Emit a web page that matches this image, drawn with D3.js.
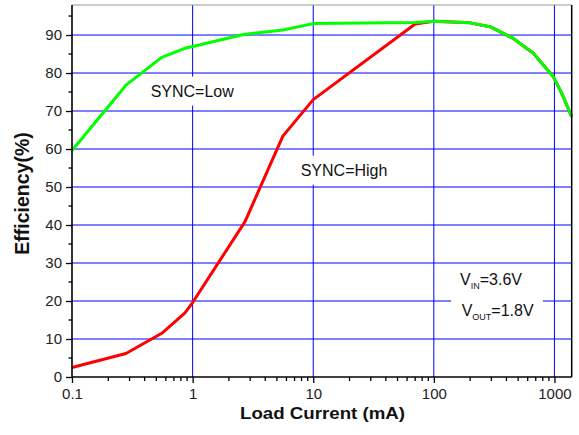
<!DOCTYPE html>
<html>
<head>
<meta charset="utf-8">
<script src="https://cdn.jsdelivr.net/npm/d3@7"></script>
<style>
  html, body { margin: 0; padding: 0; background: #fff; }
  svg { display: block; font-family: "Liberation Sans", Arial, sans-serif; }
</style>
</head>
<body>
<svg id="chart" width="579" height="435"></svg>
<script>
// ---- data ----
const currentLow  = [0.1, 0.28, 0.555, 0.86, 1, 2.7, 5.6, 10, 70, 100, 200, 292, 456, 668, 979, 1148, 1390];
const effLow      = [59.6, 76.8, 84.1, 86.5, 87.0, 90.2, 91.3, 93.0, 93.3, 93.6, 93.2, 92.2, 89.1, 85.2, 79.0, 74.7, 68.5];
const currentHigh = [0.1, 0.28, 0.555, 0.86, 1, 2.72, 5.6, 10, 70, 100, 200, 292, 456, 668, 979, 1148, 1390];
const effHigh     = [2.5, 6.2, 11.5, 16.8, 19.6, 40.9, 63.4, 73.0, 92.9, 93.6, 93.2, 92.2, 89.1, 85.2, 79.0, 74.7, 68.5];
const xMajorTicks = [0.1, 1, 10, 100, 1000];
const xTickLabels = ["0.1", "1", "10", "100", "1000"];
const yMajorTicks = [0, 10, 20, 30, 40, 50, 60, 70, 80, 90];
const yGridTicks  = [10, 20, 30, 40, 50, 60, 70, 80, 90];
const xLabel = "Load Current (mA)";
const yLabel = "Efficiency(%)";

// ---- layout ----
const L = 72, R = 571.7, T = 5, B = 377;
const svg = d3.select("#chart");
const x = d3.scaleLog().domain([0.1, 1390]).range([L, R]);
const y = d3.scaleLinear().domain([0, 97.9]).range([B, T]);

const xMinor = [];
[0.1, 1, 10, 100].forEach(d => { for (let k = 2; k <= 9; k++) xMinor.push(d * k); });
const xMinorIn = xMinor.filter(v => v <= 1390);
const yMinor = d3.range(5, 100, 10);

// gridlines
const grid = svg.append("g");
grid.selectAll("line.h").data(yGridTicks).join("line")
  .attr("x1", L).attr("x2", R)
  .attr("y1", d => y(d)).attr("y2", d => y(d))
  .attr("stroke", "#0000ff").attr("stroke-width", 1);
grid.selectAll("line.v").data(xMajorTicks.slice(1)).join("line")
  .attr("x1", d => x(d)).attr("x2", d => x(d))
  .attr("y1", T).attr("y2", B)
  .attr("stroke", "#0000ff").attr("stroke-width", 1);

// label boxes (white backgrounds that interrupt the grid)
const ann = svg.append("g");
function boxedText(xv, yv, padX, padY, build) {
  const g = ann.append("g");
  const rect = g.append("rect").attr("fill", "#fff");
  const t = build(g, x(xv), y(yv));
  const bb = t.node().getBBox();
  rect.attr("x", bb.x - padX).attr("y", bb.y - padY)
      .attr("width", bb.width + 2 * padX).attr("height", bb.height + 2 * padY);
  return g;
}
boxedText(0.449, 73.8, 3, 6, (g, px, py) =>
  g.append("text").attr("x", px).attr("y", py).attr("font-size", 16).attr("fill", "#111").text("SYNC=Low"));
boxedText(7.87, 53.0, 3, 6, (g, px, py) =>
  g.append("text").attr("x", px).attr("y", py).attr("font-size", 16).attr("fill", "#111").text("SYNC=High"));
boxedText(165, 24.2, 9, 6, (g, px, py) => {
  const gg = g.append("g");
  const t1 = gg.append("text").attr("x", px).attr("y", py).attr("font-size", 16).attr("fill", "#111");
  t1.append("tspan").text("V");
  t1.append("tspan").attr("font-size", 9).attr("dy", 4).text("IN");
  t1.append("tspan").attr("dy", -4).text("=3.6V");
  const t2 = gg.append("text").attr("x", x(170)).attr("y", y(16.05)).attr("font-size", 16).attr("fill", "#111");
  t2.append("tspan").text("V");
  t2.append("tspan").attr("font-size", 9).attr("dy", 4).text("OUT");
  t2.append("tspan").attr("dy", -4).text("=1.8V");
  return gg;
});

// curves
const lineGen = d3.line().x(d => x(d[0])).y(d => y(d[1]));
svg.append("path").datum(d3.zip(currentHigh, effHigh))
  .attr("d", lineGen).attr("fill", "none").attr("stroke", "#ff0000")
  .attr("stroke-width", 3).attr("stroke-linejoin", "round");
svg.append("path").datum(d3.zip(currentLow, effLow))
  .attr("d", lineGen).attr("fill", "none").attr("stroke", "#00ff00")
  .attr("stroke-width", 3).attr("stroke-linejoin", "round");

// frame: top and right
svg.append("line").attr("x1", L).attr("x2", R).attr("y1", T).attr("y2", T)
  .attr("stroke", "#999").attr("stroke-width", 1.2);
svg.append("line").attr("x1", R).attr("x2", R).attr("y1", T).attr("y2", B)
  .attr("stroke", "#000").attr("stroke-width", 1.5);

// axes
const xAxis = d3.axisBottom(x).tickValues(xMajorTicks)
  .tickFormat((d, i) => xTickLabels[i]).tickSize(6).tickSizeOuter(0).tickPadding(5.5);
const gx = svg.append("g").attr("transform", `translate(0,${B})`).call(xAxis);
gx.append("g").selectAll("line").data(xMinorIn).join("line")
  .attr("x1", d => x(d)).attr("x2", d => x(d)).attr("y1", 0).attr("y2", 4)
  .attr("stroke", "#000").attr("stroke-width", 1.3);

const yAxis = d3.axisLeft(y).tickValues(yMajorTicks).tickSize(6).tickSizeOuter(0).tickPadding(4);
const gy = svg.append("g").attr("transform", `translate(${L},0)`).call(yAxis);
gy.append("g").selectAll("line").data(yMinor).join("line")
  .attr("y1", d => y(d)).attr("y2", d => y(d)).attr("x1", 0).attr("x2", -3.5)
  .attr("stroke", "#000").attr("stroke-width", 1.3);

[gx, gy].forEach(g => {
  g.select(".domain").attr("stroke", "#000").attr("stroke-width", 1.6);
  g.selectAll(".tick line").attr("stroke", "#000").attr("stroke-width", 1.3);
  g.selectAll(".tick text").attr("font-size", 15).attr("fill", "#222")
    .attr("font-family", "'Liberation Sans', Arial, sans-serif");
});
gy.select(".domain").attr("d", `M0,${B}V${T}`);
gx.select(".domain").attr("d", `M${L},0H${R}`);

// axis titles
svg.append("text").attr("x", 240).attr("y", 418.5)
  .attr("font-size", 17).attr("font-weight", "bold")
  .attr("textLength", 165).attr("lengthAdjust", "spacingAndGlyphs")
  .attr("fill", "#111").text(xLabel);
svg.append("text").attr("transform", "translate(29,193.5) rotate(-90)")
  .attr("text-anchor", "middle").attr("font-size", 19.5).attr("font-weight", "bold")
  .attr("fill", "#111").text(yLabel);
</script>
</body>
</html>
